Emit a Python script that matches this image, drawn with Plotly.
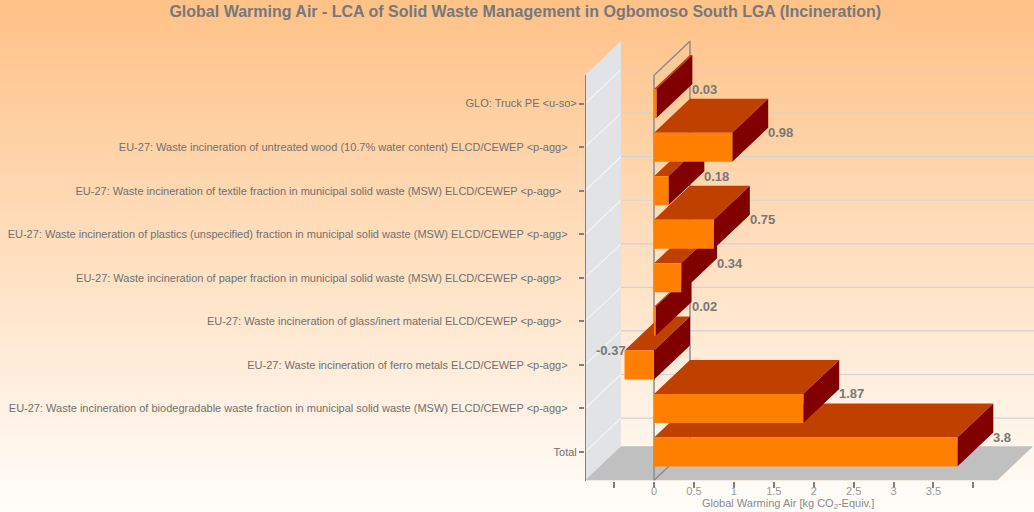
import plotly.graph_objects as go

# categories top -> bottom as shown in the chart
categories = [
    "GLO: Truck PE &lt;u-so&gt;",
    "EU-27: Waste incineration of untreated wood (10.7% water content) ELCD/CEWEP &lt;p-agg&gt;",
    "EU-27: Waste incineration of textile fraction in municipal solid waste (MSW) ELCD/CEWEP &lt;p-agg&gt;",
    "EU-27: Waste incineration of plastics (unspecified) fraction in municipal solid waste (MSW) ELCD/CEWEP &lt;p-agg&gt;",
    "EU-27: Waste incineration of paper fraction in municipal solid waste (MSW) ELCD/CEWEP &lt;p-agg&gt;",
    "EU-27: Waste incineration of glass/inert material ELCD/CEWEP &lt;p-agg&gt;",
    "EU-27: Waste incineration of ferro metals ELCD/CEWEP &lt;p-agg&gt;",
    "EU-27: Waste incineration of biodegradable waste fraction in municipal solid waste (MSW) ELCD/CEWEP &lt;p-agg&gt;",
    "Total",
]
values = [0.03, 0.98, 0.18, 0.75, 0.34, 0.02, -0.37, 1.87, 3.8]
# trailing padding the original labels carry (in non-breaking spaces)
label_pad = [0, 3, 5, 3, 5, 5, 3, 3, 0]

x_tickvals = [0, 0.5, 1, 1.5, 2, 2.5, 3, 3.5]
x_ticktext = ["0", "0.5", "1", "1.5", "2", "2.5", "3", "3.5"]
x_extra_ticks = [-0.5, 4]

# bottom -> top for drawing (Total at y=0)
cats = [c + "\u00a0" * p for c, p in zip(categories, label_pad)][::-1]
vals = values[::-1]

# fake 3d geometry (data units)
dx, dy = 0.45, 0.78      # depth offset
h = 0.333                # half bar thickness
xl, xr = -0.865, 4.30    # wall / floor right edge
yb, yt = -0.65, 8.65     # floor / top
x_rng = [-0.865, 4.76]
y_rng = [-0.666, 9.552]

FRONT, TOP, SIDE = "#FF8000", "#C04000", "#800000"

fig = go.Figure()

# left wall
fig.add_trace(go.Scatter(x=[xl, xl, xl + dx, xl + dx, xl], y=[yb, yt, yt + dy, yb + dy, yb],
                         fill="toself", fillcolor="#E1E3E6", mode="none", hoverinfo="skip"))
# floor
fig.add_trace(go.Scatter(x=[xl, xr, xr + dx, xl + dx, xl], y=[yb, yb, yb + dy, yb + dy, yb],
                         fill="toself", fillcolor="#C0C0C0", mode="none", hoverinfo="skip"))

# grid lines: diagonal on the wall + horizontal on the back plane
gx, gy, wx, wy = [], [], [], []
for i in range(len(cats)):
    wx += [xl, xl + dx, None]
    wy += [i, i + dy, None]
    gx += [xl + dx, x_rng[1], None]
    gy += [i + dy, i + dy, None]
fig.add_trace(go.Scatter(x=wx, y=wy, mode="lines", line=dict(color="#F4F4F4", width=1.2), hoverinfo="skip"))
fig.add_trace(go.Scatter(x=gx, y=gy, mode="lines", line=dict(color="#D2D2D2", width=1.2), hoverinfo="skip"))

# zero plane outline
fig.add_trace(go.Scatter(x=[0, 0, dx, dx, 0], y=[yb, yt, yt + dy, yb + dy, yb], mode="lines",
                         line=dict(color="#8C8C8C", width=1.5), hoverinfo="skip"))
# left axis line
fig.add_trace(go.Scatter(x=[xl, xl], y=[yb - 0.03, yt], mode="lines",
                         line=dict(color="#808080", width=2), hoverinfo="skip"))

# bar faces
tx, ty, sx, sy, fx, fy = [], [], [], [], [], []
for i, v in enumerate(vals):
    lo, hi = min(v, 0), max(v, 0)
    tx += [lo, hi, hi + dx, lo + dx, lo, None]
    ty += [i + h, i + h, i + h + dy, i + h + dy, i + h, None]
    sx += [hi, hi, hi + dx, hi + dx, hi, None]
    sy += [i - h, i + h, i + h + dy, i - h + dy, i - h, None]
    fx += [lo, hi, hi, lo, lo, None]
    fy += [i - h, i - h, i + h, i + h, i - h, None]
fig.add_trace(go.Scatter(x=tx, y=ty, fill="toself", fillcolor=TOP, mode="none", hoverinfo="skip"))
fig.add_trace(go.Scatter(x=sx, y=sy, fill="toself", fillcolor=SIDE, mode="none", hoverinfo="skip"))
fig.add_trace(go.Scatter(x=fx, y=fy, fill="toself", fillcolor=FRONT, mode="none", hoverinfo="skip"))

# value labels
lab_font = dict(size=13, color="#787878", family="Liberation Sans")
for i, v in enumerate(vals):
    if v >= 0:
        fig.add_annotation(x=v + dx, y=i + h, text=f"<b>{v:g}</b>", xanchor="left", yanchor="middle",
                           showarrow=False, font=lab_font, xshift=-2)
    else:
        fig.add_annotation(x=v, y=i + h, text=f"<b>{v:g}</b>", xanchor="right", yanchor="middle",
                           showarrow=False, font=lab_font, xshift=3)

# axis title
fig.add_annotation(x=1.68, y=-31 / 445, xref="x", yref="paper", text="Global Warming Air [kg CO<sub>2</sub>-Equiv.]",
                   showarrow=False, yanchor="bottom", borderpad=0,
                   font=dict(size=11, color="#8A8A8A", family="Liberation Sans"))

# background gradient
n = 60
top_c, bot_c = (255, 194, 135), (255, 253, 250)
y0p, y1p = -31 / 445, 1 + 36 / 445
for k in range(n):
    t = k / (n - 1)
    c = tuple(int(round(top_c[j] + (bot_c[j] - top_c[j]) * t)) for j in range(3))
    fig.add_shape(type="rect", xref="paper", yref="paper", layer="below",
                  x0=-585 / 449, x1=1.0,
                  y1=y1p - (y1p - y0p) * k / n, y0=y1p - (y1p - y0p) * (k + 1) / n - 0.002,
                  fillcolor="rgb(%d,%d,%d)" % c, line=dict(width=0))

fig.update_layout(
    width=1034, height=512,
    margin=dict(l=585, r=0, t=36, b=31),
    paper_bgcolor="#FFFDFA", plot_bgcolor="rgba(0,0,0,0)",
    showlegend=False,
    title=dict(text="<b>Global Warming Air - LCA of Solid Waste Management in Ogbomoso South LGA (Incineration)</b>",
               x=0.508, xanchor="center", y=0.977, yanchor="middle",
               font=dict(size=16, color="#76787B", family="Liberation Sans")),
    xaxis=dict(range=x_rng, tickvals=x_tickvals, ticktext=x_ticktext, showgrid=False, zeroline=False,
               showline=False, ticks="outside", ticklen=6, tickwidth=2, tickcolor="#808080",
               ticklabelstandoff=-6,
               tickfont=dict(size=11, color="#9A9A9A", family="Liberation Sans"),
               minor=dict(tickvals=x_extra_ticks, ticks="outside", ticklen=6, tickwidth=2, tickcolor="#808080",
                          showgrid=False)),
    yaxis=dict(range=y_rng, tickvals=list(range(len(cats))), ticktext=cats, showgrid=False, zeroline=False,
               showline=False, ticks="outside", ticklen=5, tickwidth=2, tickcolor="#808080",
               tickfont=dict(size=11, color="#707070", family="Liberation Sans")),
)

fig.write_html("out.html", config={"displayModeBar": False},
               post_script="document.body.style.margin='0';")
